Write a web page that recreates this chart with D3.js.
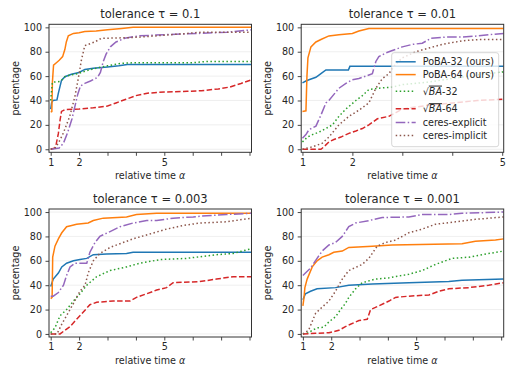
<!DOCTYPE html>
<html>
<head>
<meta charset="utf-8">
<script src="https://cdn.jsdelivr.net/npm/d3@7"></script>
<style>
  body { margin: 0; background: #fff; }
  svg text { font-family: "DejaVu Sans", sans-serif; fill: #262626; }
</style>
</head>
<body>
<div id="plot"></div>
<script>
// series order shared by every panel
const seriesNames = ["PoBA-32 (ours)", "PoBA-64 (ours)", "√BA-32", "√BA-64", "ceres-explicit", "ceres-implicit"];
const colors = ["#1f77b4", "#ff7f0e", "#2ca02c", "#d62728", "#9467bd", "#8c564b"];
const dashes = [null, null, "1.5,2.5", "5.5,2.4", "9.6,2.4,1.5,2.4", "1.5,2.5"];

const panelTitles = ["0.1", "0.01", "0.003", "0.001"];
const xMax = [8.07, 5.03, 8.07, 8.09];
const yTicks = [0, 20, 40, 60, 80, 100];
const xLabelTicks = [1, 2, 5];

// [relative time, percentage] per series
const tau0_1 = [
  [[1,33],[1.03,38],[1.08,40],[1.22,40.5],[1.27,46],[1.38,56.5],[1.5,59.5],[1.73,61.5],[2.0,63],[2.2,65.5],[2.5,66.5],[3.0,67.5],[3.4,68.5],[3.7,69.5],[8.07,69.5]],
  [[1,30.5],[1.04,31],[1.06,55],[1.08,62],[1.1,69],[1.2,71],[1.3,73],[1.42,76],[1.5,82],[1.55,88],[1.62,93],[1.8,95],[2.0,95.6],[2.2,96.5],[2.6,97],[3.0,98],[3.5,99],[3.9,100],[8.07,100]],
  [[1,40],[1.03,48],[1.06,55],[1.3,55.5],[1.4,57],[1.5,59.5],[1.7,61],[1.95,62],[2.2,64],[2.5,66],[3.0,68.5],[3.5,70.5],[4.0,71],[6.0,71],[6.5,72],[8.07,72]],
  [[1,0],[1.15,1],[1.2,5],[1.27,13],[1.33,24],[1.38,31],[1.5,32.5],[2.0,33],[2.5,34],[3.0,35.5],[3.3,38],[3.65,41],[4.0,44],[4.4,46],[5.0,47],[5.8,47.5],[6.3,48],[6.9,49.5],[7.3,51],[7.7,54],[8.07,57]],
  [[1,0],[1.3,1],[1.45,5],[1.6,14],[1.75,25],[1.85,35],[1.95,45],[2.05,52],[2.2,54],[2.4,56],[2.65,59],[2.75,63],[2.85,72],[2.95,78],[3.1,84],[3.3,88],[3.6,91],[4.1,93],[5.0,94],[6.2,95],[7.2,96],[8.07,98]],
  [[1,0],[1.15,1],[1.27,5],[1.44,13],[1.67,27],[1.85,43],[1.97,58],[2.08,73],[2.2,85],[2.55,88],[2.78,91],[3.7,91.5],[4.15,92],[4.7,93],[5.8,95],[6.3,96],[8.07,96]]
];

const tau0_01 = [
  [[1,54.5],[1.07,56],[1.13,57],[1.27,59],[1.37,62],[1.47,65],[1.92,65],[1.95,68],[5.03,68]],
  [[1,31],[1.07,31.5],[1.09,60],[1.11,75],[1.17,84],[1.27,88],[1.37,90],[1.53,93],[1.73,94],[2.0,95],[2.13,97],[2.33,99],[5.03,99]],
  [[1,6],[1.1,10],[1.2,12],[1.33,14],[1.47,17],[1.6,20],[1.73,27],[1.87,33],[2.07,40],[2.2,44],[2.33,49],[2.5,50],[2.8,51],[3.0,53],[3.5,55],[4.0,58],[4.5,61],[5.03,63.5]],
  [[1,0],[1.37,0],[1.43,2],[1.53,6],[1.63,8],[1.77,10],[1.93,13],[2.07,15],[2.2,17],[2.33,20],[2.5,25],[2.73,27],[2.87,30],[3.0,33],[3.5,36],[4.0,38],[4.5,40],[5.03,41]],
  [[1,9],[1.07,12],[1.13,16],[1.27,19],[1.37,28],[1.47,38],[1.53,40],[1.63,45],[1.73,50],[1.87,54],[2.0,57],[2.13,58],[2.27,60],[2.4,62],[2.47,72],[2.53,76],[2.67,79],[2.8,81],[3.0,84],[3.2,86],[3.4,87],[3.57,91],[3.87,92],[4.2,92],[4.53,93],[4.73,94],[5.03,95]],
  [[1,0],[1.2,2],[1.4,5],[1.53,10],[1.73,20],[1.93,27],[2.13,32],[2.33,38],[2.47,50],[2.6,58],[2.73,62],[2.87,70],[3.0,75],[3.27,80],[3.53,83],[3.8,86],[4.2,89],[4.53,90],[5.03,90]]
];

const tau0_003 = [
  [[1,39],[1.09,45],[1.27,50],[1.39,55],[1.56,58],[1.8,60],[2.03,61],[2.27,62],[2.5,65],[2.97,65.5],[3.67,66],[3.9,67],[8.07,67]],
  [[1,29],[1.05,30],[1.07,63],[1.15,72],[1.27,78],[1.39,83],[1.56,88],[1.74,89],[1.91,90],[2.32,91],[2.5,93],[2.85,95],[3.67,96],[4.02,98],[4.73,99],[8.07,99]],
  [[1,1],[1.15,5],[1.33,15],[1.56,20],[1.8,27],[2.03,33],[2.27,40],[2.62,47],[3.09,52],[3.67,55],[4.14,58],[4.85,61],[5.78,62],[6.84,65],[7.42,66],[8.07,70]],
  [[1,0],[1.33,0],[1.5,3],[1.68,6],[1.91,12],[2.15,18],[2.38,24],[2.62,26],[3.2,27],[3.79,27],[4.02,30],[4.38,33],[4.73,36],[5.08,38],[5.31,42],[6.25,43],[6.84,45],[7.42,47],[8.07,47]],
  [[1,31],[1.09,31],[1.27,34],[1.45,40],[1.56,48],[1.68,55],[1.86,58],[2.27,58],[2.38,67],[2.56,75],[2.73,80],[3.09,84],[3.44,88],[3.9,91],[4.38,93],[4.73,93],[5.31,95],[6.02,96],[6.49,97],[7.19,98],[8.07,99]],
  [[1,0],[1.22,0],[1.39,8],[1.56,15],[1.8,25],[2.03,35],[2.21,40],[2.32,50],[2.5,60],[2.73,66],[3.09,71],[3.55,75],[3.9,78],[4.49,82],[5.08,86],[5.67,89],[6.25,91],[7.19,92],[8.07,95]]
];

const tau0_001 = [
  [[1,28],[1.09,33],[1.27,35],[1.5,37],[2.15,38],[2.62,40],[3.45,41],[4.74,42],[6.15,43],[6.62,44],[8.09,45]],
  [[1,23],[1.04,30],[1.07,38],[1.15,45],[1.33,55],[1.5,60],[1.68,63],[1.92,65],[2.09,67],[2.39,68],[2.62,71],[3.45,72],[4.15,73],[6.62,74],[7.09,76],[7.8,77],[8.09,78]],
  [[1,0],[1.2,1],[1.33,3],[1.5,5],[1.74,5.5],[1.92,10],[2.15,14],[2.33,20],[2.5,25],[2.62,30],[2.86,37],[3.09,42],[3.56,45],[4.04,46],[4.74,49],[5.21,52],[5.68,57],[6.27,62],[6.86,63],[7.56,66],[8.09,68]],
  [[1,0],[1.45,0.5],[1.92,1],[2.27,3],[2.5,6],[2.68,8],[2.98,11],[3.27,12],[3.39,20],[3.68,23],[4.04,27],[4.27,30],[4.74,31],[5.45,32],[5.8,35],[6.15,37],[6.86,38],[7.56,40],[8.09,42]],
  [[1,48],[1.09,50],[1.27,54],[1.5,62],[1.68,68],[1.92,73],[2.15,75],[2.39,80],[2.62,88],[2.86,91],[3.33,93],[3.8,95.5],[4.74,96],[5.21,98],[6.15,98],[6.62,99],[8.09,100]],
  [[1,0],[1.2,3],[1.45,17],[1.68,22],[1.92,27],[2.15,35],[2.39,45],[2.62,52],[3.09,57],[3.33,62],[3.62,72],[3.92,75],[4.27,77],[4.74,83],[5.21,86],[5.68,90],[6.39,92],[7.09,94],[8.09,96]]
];

const panelData = [tau0_1, tau0_01, tau0_003, tau0_001];

const W = 527, H = 370;
const colX = [49, 301.2];
const rowY = [24.3, 209];
const pw = 202.5, ph = 128;

const svg = d3.select("#plot").append("svg")
  .attr("width", W).attr("height", H);

// writes "√BA-32" style labels with italic overlined BA
function writeLabel(sel, name) {
  if (name.startsWith("√")) {
    const rest = name.slice(1);
    const m = rest.match(/^([A-Za-z]+)(.*)$/);
    sel.append("tspan").text("√");
    sel.append("tspan").attr("font-style", "italic")
      .style("text-decoration", "overline").text(m[1]);
    sel.append("tspan").text(m[2]);
  } else {
    sel.text(name);
  }
}

panelData.forEach((series, i) => {
  const x0 = colX[i % 2], y0 = rowY[Math.floor(i / 2)];
  const g = svg.append("g").attr("transform", `translate(${x0},${y0})`);

  const x = d3.scaleLinear().domain([i === 1 ? 0.975 : 0.94, xMax[i]]).range([0, pw]);
  const y = d3.scaleLinear().domain([-2.5, 102.5]).range([ph, 0]);

  // faint horizontal grid
  g.append("g").selectAll("line").data(yTicks).join("line")
    .attr("x1", 0).attr("x2", pw)
    .attr("y1", d => y(d)).attr("y2", d => y(d))
    .attr("stroke", "#ebebeb").attr("stroke-width", 0.8);

  g.append("clipPath").attr("id", "clip" + i)
    .append("rect").attr("width", pw).attr("height", ph);

  const line = d3.line().x(d => x(d[0])).y(d => y(d[1]));

  g.append("g").attr("clip-path", `url(#clip${i})`)
    .selectAll("path").data(series).join("path")
    .attr("d", line)
    .attr("fill", "none")
    .attr("stroke", (d, k) => colors[k])
    .attr("stroke-width", 1.5)
    .attr("stroke-dasharray", (d, k) => dashes[k]);

  // axes
  const xTicks = d3.range(1, Math.floor(xMax[i]) + 1);
  const xAxis = g.append("g").attr("transform", `translate(0,${ph})`)
    .call(d3.axisBottom(x).tickValues(xTicks).tickSize(3.5).tickPadding(3)
      .tickFormat(d => xLabelTicks.includes(d) ? d : ""));
  const yAxis = g.append("g")
    .call(d3.axisLeft(y).tickValues(yTicks).tickSize(3.5).tickPadding(3.5));
  [xAxis, yAxis].forEach(a => {
    a.select(".domain").remove();
    a.selectAll("line").attr("stroke", "#333").attr("stroke-width", 0.9);
    a.selectAll("text").attr("font-size", "9.6px")
      .attr("font-family", "DejaVu Sans").attr("fill", "#262626");
  });

  g.append("rect").attr("width", pw).attr("height", ph)
    .attr("fill", "none").attr("stroke", "#333").attr("stroke-width", 1);

  // titles and labels
  const title = g.append("text").attr("x", pw / 2).attr("y", -6.3)
    .attr("text-anchor", "middle").attr("font-size", "11.5px");
  title.text("tolerance τ = " + panelTitles[i]);

  const xl = g.append("text").attr("x", pw / 2).attr("y", ph + 26.5)
    .attr("text-anchor", "middle").attr("font-size", "9.6px");
  xl.append("tspan").text("relative time ");
  xl.append("tspan").attr("font-style", "italic").text("α");

  g.append("text")
    .attr("transform", `translate(-30.5,${ph / 2}) rotate(-90)`)
    .attr("text-anchor", "middle").attr("font-size", "9.6px")
    .text("percentage");

  // legend in the second panel
  if (i === 1) {
    const lx = 391.7 - x0, ly = 52.7 - y0;
    const leg = g.append("g").attr("transform", `translate(${lx},${ly})`);
    leg.append("rect").attr("width", 107).attr("height", 94).attr("rx", 2.5)
      .attr("fill", "#fff").attr("fill-opacity", 0.8)
      .attr("stroke", "#cccccc").attr("stroke-width", 0.8);
    let cy = 2.6;
    seriesNames.forEach((name, k) => {
      const sq = name.startsWith("√");
      cy += sq ? 10.3 : 6.5;
      leg.append("line").attr("x1", 4).attr("x2", 24)
        .attr("y1", cy).attr("y2", cy)
        .attr("stroke", colors[k]).attr("stroke-width", 1.5)
        .attr("stroke-dasharray", dashes[k]);
      const t = leg.append("text").attr("x", 31).attr("y", cy + 3.4)
        .attr("font-size", "9.6px");
      writeLabel(t, name);
      cy += sq ? 7.3 : 6.3;
    });
  }
});
</script>
</body>
</html>
